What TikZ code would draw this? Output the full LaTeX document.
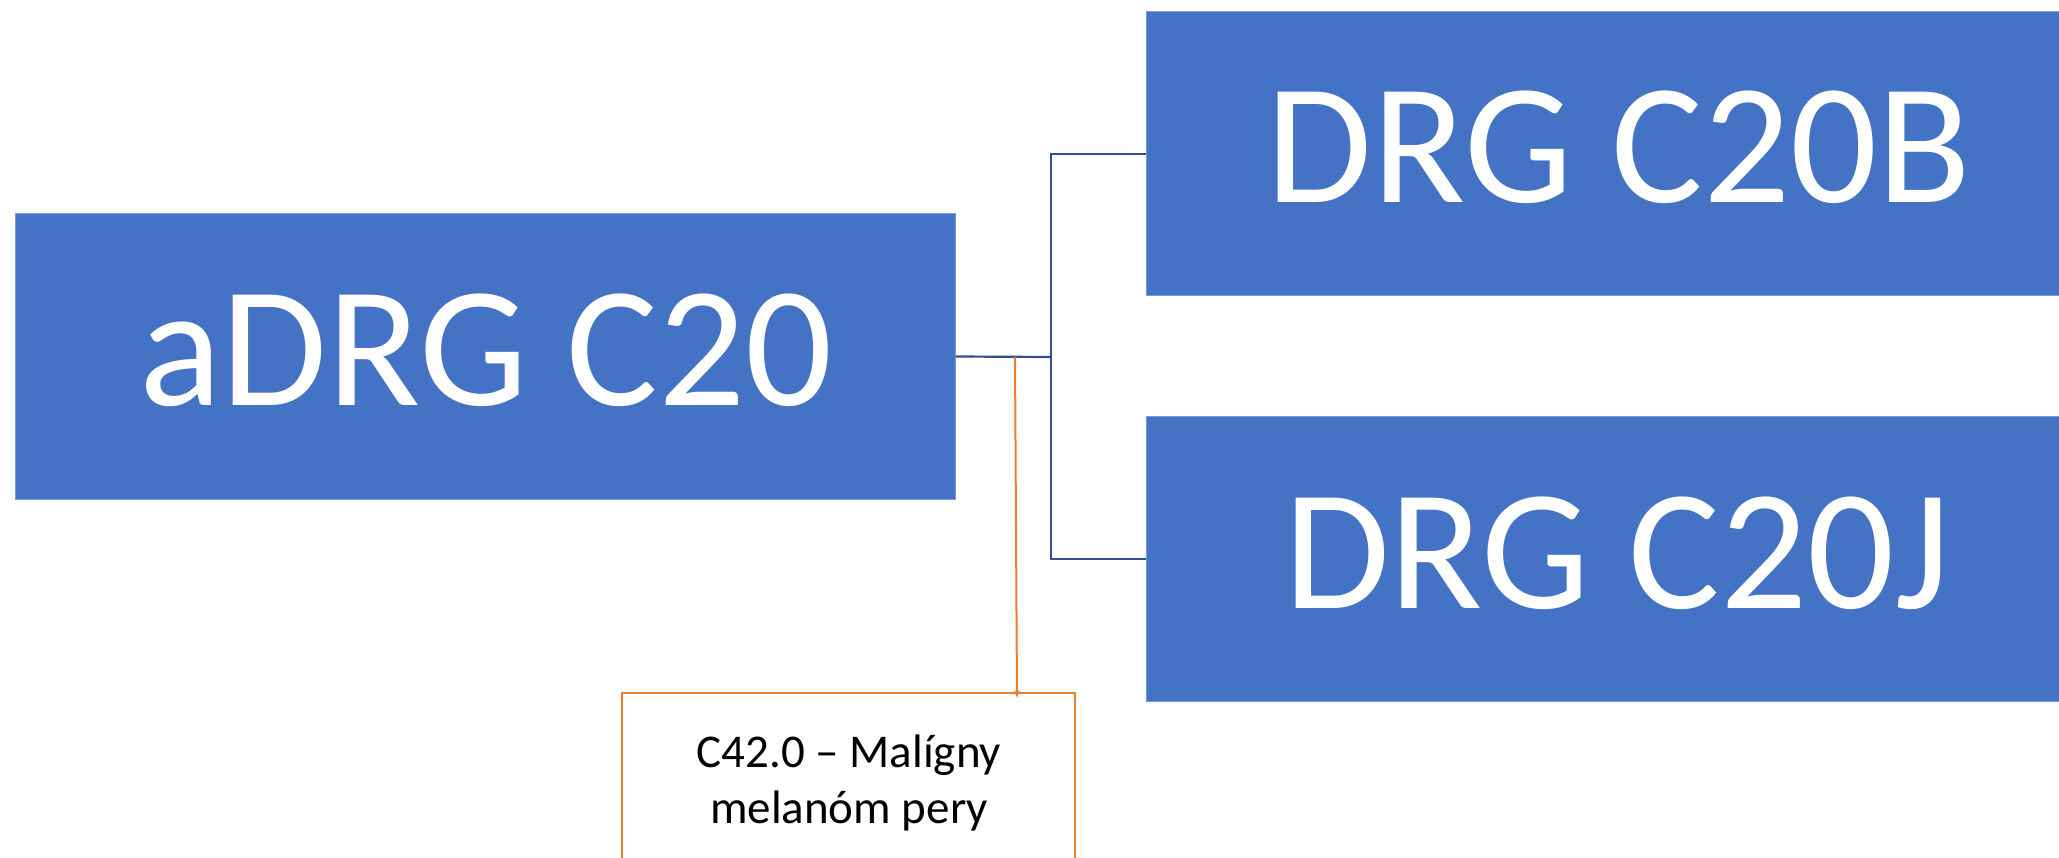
\documentclass[tikz,border=0pt]{standalone}
\usepackage{fontspec}
\setmainfont{Carlito}
\usetikzlibrary{arrows.meta}
\definecolor{boxblue}{HTML}{4472C4}
\definecolor{lineblue}{HTML}{2F528F}
\definecolor{orng}{HTML}{ED7D31}
\tikzset{
  bluebox/.style={fill=boxblue, draw=boxblue!70!white, line width=1pt, inner sep=0pt},
  bigtext/.style={text=white, font=\fontsize{172}{200}\selectfont, inner sep=0pt},
  conn/.style={draw=lineblue, line width=2.2pt},
  notebox/.style={draw=orng, line width=2pt, fill=white, inner sep=0pt},
  notetext/.style={font=\fontsize{47}{57}\selectfont, inner sep=0pt},
  notearrow/.style={draw=orng, line width=2pt, -{Stealth[length=8pt,width=5pt]}},
}
\begin{document}
\begin{tikzpicture}[x=1pt,y=-1pt]
\clip (0,0) rectangle (2059,858);
\fill[white] (0,0) rectangle (2059,858);
% boxes
\node[bluebox, minimum width=940pt, minimum height=285pt] (a) at (485,356.5) {};
\node[bluebox, minimum width=960pt, minimum height=284pt] (b) at (1626,154) {};
\node[bluebox, minimum width=960pt, minimum height=284pt] (c) at (1626,559) {};
\node[bigtext, anchor=base] (ta) at (486,406) {aDRG C20};
\node[bigtext, anchor=base] (tb) at (1619,203) {DRG C20B};
\node[bigtext, anchor=base] (tc) at (1617,608) {DRG C20J};
% connectors
\coordinate (j) at (1051,357);
\draw[conn] (a.east) -- (j);
\draw[conn] (b.west) -| (j) |- (c.west);
% note
\node[notebox, minimum width=453pt, minimum height=207pt] (d) at (848.5,796.5) {};
\node[notetext, anchor=base] (n1) at (849,767) {C42.0 – Malígny};
\node[notetext, anchor=base] (n2) at (849,823) {melanóm pery};
\coordinate (os) at (1015,357);
\coordinate (oe) at (1017,698);
\draw[notearrow] (os) -- (oe);
\end{tikzpicture}
\end{document}
